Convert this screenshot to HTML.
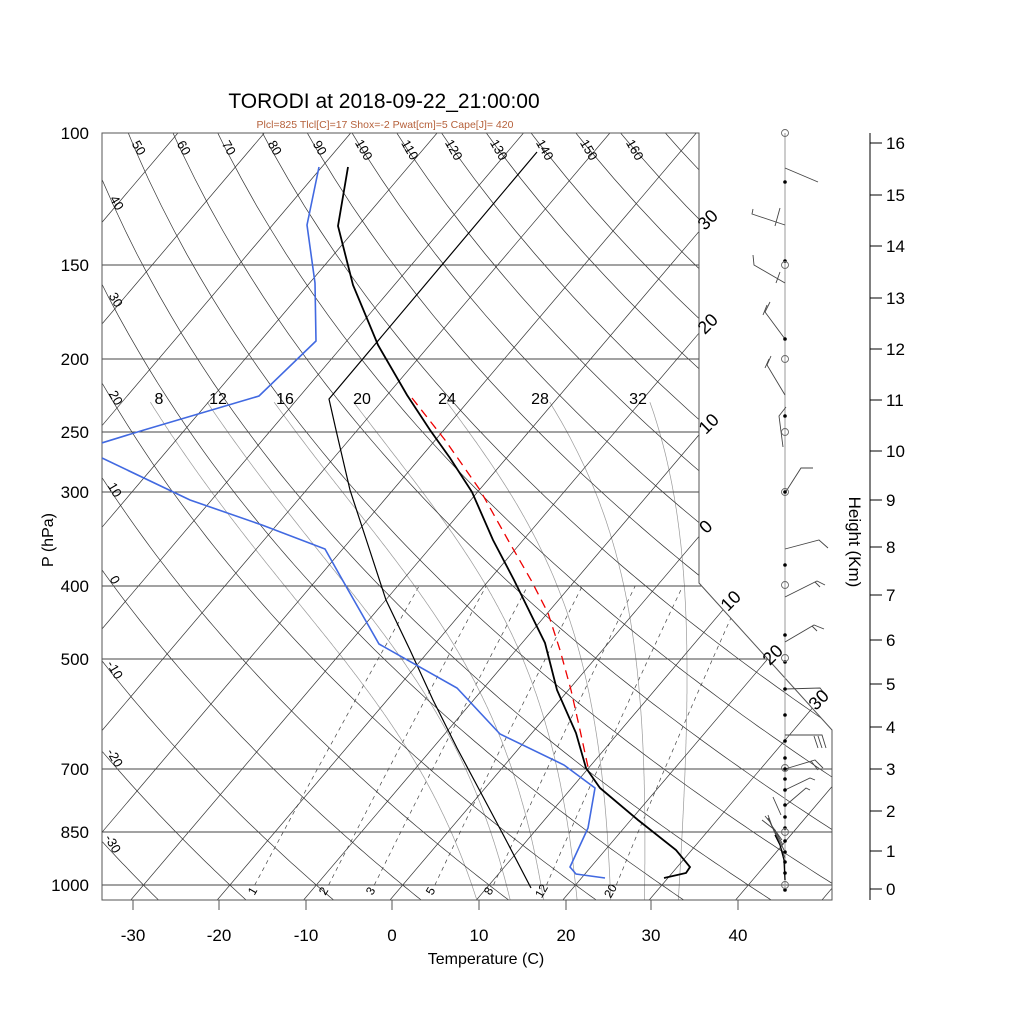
<!DOCTYPE html>
<html><head><meta charset="utf-8">
<style>
html,body{margin:0;padding:0;background:#fff;}
svg{display:block;font-family:"Liberation Sans",Arial,sans-serif;}
</style></head>
<body>
<svg id="s" width="1024" height="1024" viewBox="0 0 1024 1024" xmlns="http://www.w3.org/2000/svg">
<defs>
<clipPath id="box"><polygon points="102,133 699,133 699,583 832,730 832,900 102,900"/></clipPath>
</defs>
<rect width="1024" height="1024" fill="#fff"/>
<g id="grid" clip-path="url(#box)"></g>
<g id="isob" stroke="#444" stroke-width="1" fill="none">
<line x1="102" y1="265" x2="699" y2="265"/>
<line x1="102" y1="359" x2="699" y2="359"/>
<line x1="102" y1="432" x2="699" y2="432"/>
<line x1="102" y1="492" x2="699" y2="492"/>
<line x1="102" y1="586" x2="702" y2="586"/>
<line x1="102" y1="659" x2="768" y2="659"/>
<line x1="102" y1="769" x2="832" y2="769"/>
<line x1="102" y1="832" x2="832" y2="832"/>
<line x1="102" y1="885" x2="832" y2="885"/>
</g>
<polygon points="102,133 699,133 699,583 832,730 832,900 102,900" fill="none" stroke="#555" stroke-width="1"/>
<g stroke="#555" stroke-width="1">
<line x1="133" y1="900" x2="133" y2="910"/><line x1="219" y1="900" x2="219" y2="910"/>
<line x1="306" y1="900" x2="306" y2="910"/><line x1="392" y1="900" x2="392" y2="910"/>
<line x1="479" y1="900" x2="479" y2="910"/><line x1="566" y1="900" x2="566" y2="910"/>
<line x1="651" y1="900" x2="651" y2="910"/><line x1="738" y1="900" x2="738" y2="910"/>
</g>
<g clip-path="url(#box)">
<polyline fill="none" stroke="#000" stroke-width="1.2" points="537,152 329,399 336,430 350,490 368,545 386,600 410,650 433,700 457,748 481,793 506,840 531,888"/>
<polyline fill="none" stroke="#e00" stroke-width="1.3" stroke-dasharray="9,6" points="412,398 445,440 480,490 508,540 531,580 548,613 560,650 571,690 580,730 588,767"/>
<polyline fill="none" stroke="#4169e1" stroke-width="1.6" points="319,167 307,225 315,283 316,341 259,396 144,430 95,445"/>
<polyline fill="none" stroke="#4169e1" stroke-width="1.6" points="102,458 190,500 262,525 325,549 347,588 379,644 457,688 500,734 564,765 595,788 588,828 570,867 576,874 605,878"/>
<polyline fill="none" stroke="#000" stroke-width="1.8" points="348,167 338,226 353,285 378,345 407,395 430,430 450,458 472,492 493,540 514,580 545,643 557,690 576,733 586,768 600,788 638,820 676,850 690,867 686,873 664,878"/>
</g>
<g stroke="#000" stroke-width="1">
<line x1="870" y1="133" x2="870" y2="900"/>
<line x1="870" y1="143" x2="882" y2="143"/><line x1="870" y1="195" x2="882" y2="195"/>
<line x1="870" y1="246" x2="882" y2="246"/><line x1="870" y1="298" x2="882" y2="298"/>
<line x1="870" y1="349" x2="882" y2="349"/><line x1="870" y1="400" x2="882" y2="400"/>
<line x1="870" y1="451" x2="882" y2="451"/><line x1="870" y1="500" x2="882" y2="500"/>
<line x1="870" y1="547" x2="882" y2="547"/><line x1="870" y1="595" x2="882" y2="595"/>
<line x1="870" y1="640" x2="882" y2="640"/><line x1="870" y1="684" x2="882" y2="684"/>
<line x1="870" y1="727" x2="882" y2="727"/><line x1="870" y1="769" x2="882" y2="769"/>
<line x1="870" y1="811" x2="882" y2="811"/><line x1="870" y1="851" x2="882" y2="851"/>
<line x1="870" y1="889" x2="882" y2="889"/>
</g>
<g font-size="17" fill="#000">
<text x="886" y="149">16</text><text x="886" y="201">15</text><text x="886" y="252">14</text>
<text x="886" y="304">13</text><text x="886" y="355">12</text><text x="886" y="406">11</text>
<text x="886" y="457">10</text><text x="886" y="506">9</text><text x="886" y="553">8</text>
<text x="886" y="601">7</text><text x="886" y="646">6</text><text x="886" y="690">5</text>
<text x="886" y="733">4</text><text x="886" y="775">3</text><text x="886" y="817">2</text>
<text x="886" y="857">1</text><text x="886" y="895">0</text>
</g>
<text transform="translate(849,542) rotate(90)" font-size="17" text-anchor="middle">Height (Km)</text>
<line x1="785" y1="133" x2="785" y2="890" stroke="#999" stroke-width="1"/>
<g fill="none" stroke="#444" stroke-width="0.9">
<polyline points="785,168 818,182"/>
<polyline points="785,225 752,214 753,209"/>
<polyline points="775,226 780,208"/>
<polyline points="785,283 754,265 753,255"/>
<polyline points="776,283 780,272"/>
<polyline points="785,339 765,312 770,302"/><polyline points="763,315 767,305"/>
<polyline points="785,395 767,365 771,356"/><polyline points="765,368 769,359"/>
<polyline points="783,447 779,416 786,407"/>
<polyline points="785,493 801,468 813,468"/>
<polyline points="785,549 819,540 828,548"/>
<polyline points="785,597 817,581 825,585"/><polyline points="815,582 820,587"/>
<polyline points="785,642 814,625 824,629"/><polyline points="812,626 817,631"/>
<polyline points="785,689 820,688 824,693"/>
<polyline points="785,735 822,735 826,748"/><polyline points="818,736 822,748"/><polyline points="814,736 818,748"/>
<polyline points="785,769 815,760 823,768"/><polyline points="811,761 818,770"/>
<polyline points="785,790 810,778 815,780"/>
<polyline points="785,806 806,788 810,790"/>
<polyline points="781,815 773,797"/>
<polyline points="785,858 778,840 770,822 765,816"/>
<polyline points="784,850 776,834 768,818"/>
<polyline points="783,845 775,830 762,820"/>
<polyline points="782,840 772,826 768,815"/>
</g>
<polyline fill="none" stroke="#000" stroke-width="1.3" points="785,880 784,860 780,845 775,835"/>
<g fill="#000">
<circle cx="785" cy="182" r="1.8"/><circle cx="785" cy="261" r="1.8"/><circle cx="785" cy="339" r="1.8"/>
<circle cx="785" cy="416" r="1.8"/><circle cx="785" cy="492" r="1.8"/><circle cx="785" cy="565" r="1.8"/>
<circle cx="785" cy="635" r="1.8"/><circle cx="785" cy="662" r="1.8"/><circle cx="785" cy="689" r="1.8"/>
<circle cx="785" cy="715" r="1.8"/><circle cx="785" cy="741" r="1.8"/><circle cx="785" cy="758" r="1.8"/>
<circle cx="785" cy="769" r="1.8"/><circle cx="785" cy="779" r="1.8"/><circle cx="785" cy="790" r="1.8"/>
<circle cx="785" cy="805" r="1.8"/><circle cx="785" cy="817" r="1.8"/><circle cx="785" cy="828" r="1.8"/>
<circle cx="785" cy="841" r="1.8"/><circle cx="785" cy="852" r="1.8"/><circle cx="785" cy="862" r="1.8"/>
<circle cx="785" cy="873" r="1.8"/><circle cx="785" cy="890" r="1.8"/>
</g>
<g fill="none" stroke="#666" stroke-width="0.9">
<circle cx="785" cy="133" r="3.5"/><circle cx="785" cy="265" r="3.5"/><circle cx="785" cy="359" r="3.5"/>
<circle cx="785" cy="432" r="3.5"/><circle cx="785" cy="492" r="3.5"/><circle cx="785" cy="585" r="3.5"/>
<circle cx="785" cy="658" r="3.5"/><circle cx="785" cy="768" r="3.5"/><circle cx="785" cy="832" r="3.5"/>
<circle cx="785" cy="885" r="3.5"/>
</g>
<text x="384" y="108" font-size="21" text-anchor="middle">TORODI at 2018-09-22_21:00:00</text>
<text x="385" y="128" font-size="10.5" text-anchor="middle" fill="#b5603a">Plcl=825 Tlcl[C]=17 Shox=-2 Pwat[cm]=5 Cape[J]= 420</text>
<g font-size="17" text-anchor="end">
<text x="89" y="139">100</text><text x="89" y="271">150</text><text x="89" y="365">200</text>
<text x="89" y="438">250</text><text x="89" y="498">300</text><text x="89" y="592">400</text>
<text x="89" y="665">500</text><text x="89" y="775">700</text><text x="89" y="838">850</text>
<text x="89" y="891">1000</text>
</g>
<text transform="translate(53,540) rotate(-90)" font-size="16" text-anchor="middle">P (hPa)</text>
<g font-size="17" text-anchor="middle">
<text x="133" y="941">-30</text><text x="219" y="941">-20</text><text x="306" y="941">-10</text>
<text x="392" y="941">0</text><text x="479" y="941">10</text><text x="566" y="941">20</text>
<text x="651" y="941">30</text><text x="738" y="941">40</text>
</g>
<text x="486" y="964" font-size="16" text-anchor="middle">Temperature (C)</text>
<g font-size="16" text-anchor="middle">
<text x="159" y="404">8</text><text x="218" y="404">12</text><text x="285" y="404">16</text>
<text x="362" y="404">20</text><text x="447" y="404">24</text><text x="540" y="404">28</text>
<text x="638" y="404">32</text>
</g>
<g font-size="13" text-anchor="middle">
<text transform="translate(135,150) rotate(60)">50</text><text transform="translate(180,150) rotate(60)">60</text>
<text transform="translate(225,150) rotate(60)">70</text><text transform="translate(271,150) rotate(60)">80</text>
<text transform="translate(316,150) rotate(60)">90</text><text transform="translate(360,152) rotate(60)">100</text>
<text transform="translate(406,152) rotate(60)">110</text><text transform="translate(450,152) rotate(60)">120</text>
<text transform="translate(495,152) rotate(60)">130</text><text transform="translate(541,152) rotate(60)">140</text>
<text transform="translate(585,152) rotate(60)">150</text><text transform="translate(631,152) rotate(60)">160</text>
<text transform="translate(113,205) rotate(60)">40</text><text transform="translate(112,302) rotate(60)">30</text>
<text transform="translate(112,400) rotate(60)">20</text><text transform="translate(111,492) rotate(60)">10</text>
<text transform="translate(111,582) rotate(60)">0</text><text transform="translate(111,672) rotate(60)">-10</text>
<text transform="translate(111,760) rotate(60)">-20</text><text transform="translate(109,846) rotate(60)">-30</text>
</g>
<g font-size="18" text-anchor="middle">
<text transform="translate(712,224) rotate(-45)">30</text><text transform="translate(712,328) rotate(-45)">20</text>
<text transform="translate(713,428) rotate(-45)">10</text><text transform="translate(710,531) rotate(-45)">0</text>
<text transform="translate(735,605) rotate(-45)">10</text><text transform="translate(777,659) rotate(-45)">20</text>
<text transform="translate(823,704) rotate(-45)">30</text>
</g>
<g font-size="12" text-anchor="middle">
<text transform="translate(256,893) rotate(-60)">1</text><text transform="translate(327,893) rotate(-60)">2</text>
<text transform="translate(374,893) rotate(-60)">3</text><text transform="translate(434,893) rotate(-60)">5</text>
<text transform="translate(492,893) rotate(-60)">8</text><text transform="translate(545,893) rotate(-60)">12</text>
<text transform="translate(614,893) rotate(-60)">20</text>
</g>
</svg>
<script>
(function(){
var NS="http://www.w3.org/2000/svg",g=document.getElementById("grid");
function Y(p){return 133+326.6*Math.log(p/100);}
function X(T,y){return 390+8.64*T+0.85*(900-y);}
function pl(pts,st,w,dash){var e=document.createElementNS(NS,"polyline");e.setAttribute("points",pts.map(function(a){return a[0].toFixed(1)+","+a[1].toFixed(1);}).join(" "));e.setAttribute("fill","none");e.setAttribute("stroke",st);e.setAttribute("stroke-width",w);if(dash)e.setAttribute("stroke-dasharray",dash);g.insertBefore(e,g.firstChild);}
var T,p,pts,i;
for(T=-150;T<=60;T+=10){pl([[X(T,133),133],[X(T,900),900]],"#333",0.7);}
for(var th=-30;th<=170;th+=10){pts=[];for(p=95;p<=1060;p+=10){var tk=(th+273.15)*Math.pow(p/1000,0.2857)-273.15;var y=Y(p);pts.push([X(tk,y),y]);}pl(pts,"#333",0.7);}
function es(t){return 6.112*Math.exp(17.67*t/(t+243.5));}
function dT(tk,pr){var rs=0.622*es(tk-273.15)/(pr-es(tk-273.15));var Rd=287,cp=1005,L=2.5e6;return (Rd*tk+L*rs)/(cp+L*L*rs*0.622/(Rd*tk*tk))/pr;}
var tw=[8,12,16,20,24,28,32];
for(i=0;i<tw.length;i++){var tt=tw[i]+273.15,up=[],dn=[],q;
 q=tt;for(p=1000;p>=228;p-=2){up.push([X(q-273.15,Y(p)),Y(p)]);q-=dT(q,p)*2;}
 q=tt;for(p=1000;p<=1060;p+=2){dn.unshift([X(q-273.15,Y(p)),Y(p)]);q+=dT(q,p)*2;}
 pl(dn.concat(up),"#999",0.7);}
var wr=[1,2,3,5,8,12,20];
for(i=0;i<wr.length;i++){pts=[];for(p=1000;p>=400;p-=20){var e=wr[i]*p/(622+wr[i]);var l=Math.log(e/6.112);var tc=243.5*l/(17.67-l);var y=Y(p);pts.push([X(tc,y),y]);}pl(pts,"#444",0.7,"4,4");}
})();
</script>
</body></html>
